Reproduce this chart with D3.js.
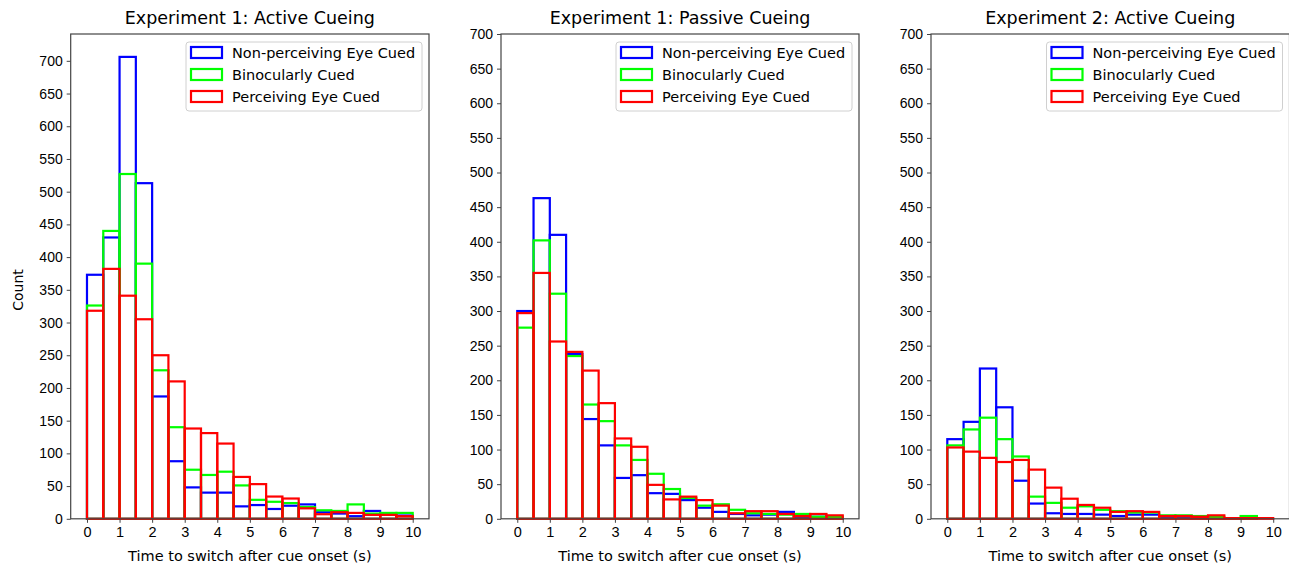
<!DOCTYPE html>
<html>
<head>
<meta charset="utf-8">
<script src="https://cdn.jsdelivr.net/npm/d3@7/dist/d3.min.js"></script>
<style>
  body { margin: 0; background: #fff; }
  svg { font-family: "DejaVu Sans", sans-serif; }
</style>
</head>
<body>
<div id="chart-container"></div>
<script>
// histogram bins: 0 to 10 s in steps of 0.5
const binStarts = [0, 0.5, 1, 1.5, 2, 2.5, 3, 3.5, 4, 4.5, 5, 5.5, 6, 6.5, 7, 7.5, 8, 8.5, 9, 9.5];
const binWidth = 0.5;

const seriesNames = ["Non-perceiving Eye Cued", "Binocularly Cued", "Perceiving Eye Cued"];
const seriesColors = ["#0000ff", "#00ff00", "#ff0000"];

const titles = ["Experiment 1: Active Cueing", "Experiment 1: Passive Cueing", "Experiment 2: Active Cueing"];
const xTicks = [0, 1, 2, 3, 4, 5, 6, 7, 8, 9, 10];
const yTicks = [0, 50, 100, 150, 200, 250, 300, 350, 400, 450, 500, 550, 600, 650, 700];
const yMax = [741, 700, 700];

// Experiment 1: Active Cueing
const exp1ActiveNonPerceiving = [373, 430, 706, 513, 187, 88, 48, 40, 40, 19, 21, 15, 20, 22, 10, 8, 4, 12, 7, 5];
const exp1ActiveBinocular     = [326, 440, 527, 390, 227, 140, 75, 67, 72, 51, 29, 26, 24, 18, 13, 12, 22, 8, 9, 9];
const exp1ActivePerceiving    = [318, 382, 341, 305, 250, 210, 138, 131, 115, 64, 53, 34, 31, 16, 7, 10, 9, 6, 6, 4];

// Experiment 1: Passive Cueing
const exp1PassiveNonPerceiving = [300, 463, 410, 238, 144, 106, 59, 63, 37, 36, 27, 16, 10, 7, 5, 6, 10, 3, 3, 3];
const exp1PassiveBinocular     = [276, 402, 325, 235, 165, 141, 106, 85, 65, 43, 30, 19, 21, 13, 8, 7, 6, 7, 3, 3];
const exp1PassivePerceiving    = [297, 355, 256, 241, 214, 167, 116, 104, 49, 28, 32, 27, 19, 8, 11, 11, 7, 4, 7, 5];

// Experiment 2: Active Cueing
const exp2ActiveNonPerceiving = [115, 140, 217, 161, 55, 22, 8, 7, 7, 6, 4, 6, 6, 2, 2, 2, 1, 1, 0, 0];
const exp2ActiveBinocular     = [106, 129, 146, 115, 90, 32, 23, 16, 18, 13, 11, 9, 9, 5, 5, 4, 3, 1, 4, 0];
const exp2ActivePerceiving    = [103, 97, 88, 82, 85, 71, 45, 29, 20, 16, 10, 11, 10, 4, 4, 3, 5, 1, 1, 1];

const panelData = [
  [exp1ActiveNonPerceiving, exp1ActiveBinocular, exp1ActivePerceiving],
  [exp1PassiveNonPerceiving, exp1PassiveBinocular, exp1PassivePerceiving],
  [exp2ActiveNonPerceiving, exp2ActiveBinocular, exp2ActivePerceiving]
];

const width = 1289;
const height = 566;
const panels = [
  { left: 70.7, right: 429 },
  { left: 501, right: 859 },
  { left: 931, right: 1289.5 }
];
const plotTop = 34, plotBottom = 518.8;

const svg = d3.select("#chart-container")
  .append("svg")
  .attr("width", width)
  .attr("height", height);

panels.forEach((p, pi) => {
  const xScale = d3.scaleLinear().domain([-0.5, 10.5]).range([p.left, p.right]);
  const yScale = d3.scaleLinear().domain([0, yMax[pi]]).range([plotBottom, plotTop]);

  const g = svg.append("g");

  // bars, one outlined rect per bin, blue then green then red
  panelData[pi].forEach((values, si) => {
    g.append("g")
      .selectAll("rect")
      .data(values)
      .enter()
      .append("rect")
      .attr("x", (d, i) => xScale(binStarts[i]))
      .attr("y", d => yScale(d))
      .attr("width", (d, i) => xScale(binStarts[i] + binWidth) - xScale(binStarts[i]))
      .attr("height", d => yScale(0) - yScale(d))
      .attr("fill", "none")
      .attr("stroke", seriesColors[si])
      .attr("stroke-width", 2.2);
  });

  // X axis
  const xAxis = g.append("g")
    .attr("transform", `translate(0, ${plotBottom})`)
    .call(d3.axisBottom(xScale).tickValues(xTicks).tickSize(4).tickPadding(4).tickFormat(d3.format("d")));
  xAxis.select(".domain").remove();
  xAxis.selectAll("text").attr("font-size", 14.5).attr("fill", "#000");
  xAxis.selectAll("line").attr("stroke", "#444");

  // Y axis
  const yAxis = g.append("g")
    .attr("transform", `translate(${p.left}, 0)`)
    .call(d3.axisLeft(yScale).tickValues(yTicks.filter(t => t <= yMax[pi])).tickSize(4).tickPadding(4));
  yAxis.select(".domain").remove();
  yAxis.selectAll("text").attr("font-size", 14).attr("fill", "#000");
  yAxis.selectAll("line").attr("stroke", "#444");

  // frame
  g.append("rect")
    .attr("x", p.left)
    .attr("y", plotTop)
    .attr("width", p.right - p.left)
    .attr("height", plotBottom - plotTop)
    .attr("fill", "none")
    .attr("stroke", "#444")
    .attr("stroke-width", 1.2);

  // title
  g.append("text")
    .attr("x", (p.left + p.right) / 2)
    .attr("y", 24)
    .attr("text-anchor", "middle")
    .attr("font-size", 17.5)
    .text(titles[pi]);

  // x label
  g.append("text")
    .attr("x", (p.left + p.right) / 2)
    .attr("y", 561)
    .attr("text-anchor", "middle")
    .attr("font-size", 14.5)
    .text("Time to switch after cue onset (s)");

  // legend
  const legend = g.append("g")
    .attr("transform", `translate(${p.right - 243}, 42)`);

  legend.append("rect")
    .attr("width", 236)
    .attr("height", 69)
    .attr("rx", 3)
    .attr("fill", "#fff")
    .attr("fill-opacity", 0.8)
    .attr("stroke", "#d0d0d0");

  const legendItems = legend.selectAll(".legend")
    .data(seriesNames)
    .enter()
    .append("g")
    .attr("class", "legend")
    .attr("transform", (d, i) => `translate(0, ${10.5 + i * 22})`);

  legendItems.append("rect")
    .attr("x", 5)
    .attr("y", -5.5)
    .attr("width", 31)
    .attr("height", 11)
    .attr("fill", "none")
    .attr("stroke", (d, i) => seriesColors[i])
    .attr("stroke-width", 2.2);

  legendItems.append("text")
    .attr("x", 46)
    .attr("y", 5)
    .attr("font-size", 14.5)
    .text(d => d);
});

// y label only on first panel
svg.append("text")
  .attr("transform", "rotate(-90)")
  .attr("x", -290)
  .attr("y", 23)
  .attr("text-anchor", "middle")
  .attr("font-size", 14)
  .text("Count");
</script>
</body>
</html>
